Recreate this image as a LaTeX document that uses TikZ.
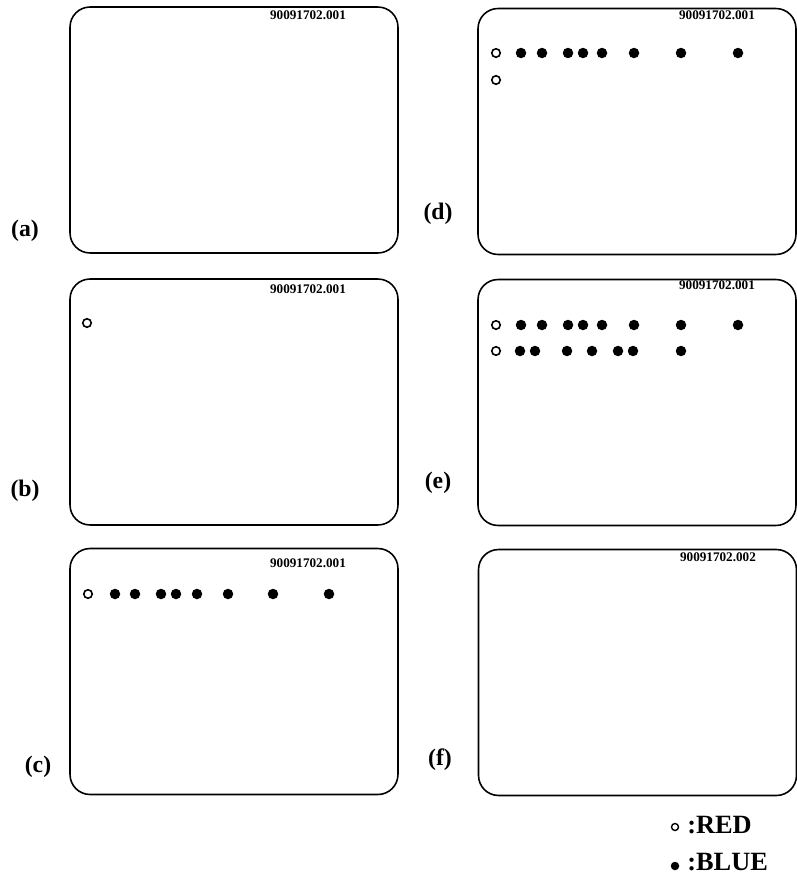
\documentclass[tikz,border=0pt]{standalone}
\usepackage{fontspec}
\setmainfont{Liberation Serif}
\usetikzlibrary{positioning}
\tikzset{
  panel/.style={draw, line width=0.9pt, rounded corners=0.4cm, minimum width=6.56cm, minimum height=4.92cm, inner sep=0pt},
  panelr/.style={panel, minimum width=6.36cm},
  idtext/.style={font=\fontsize{7.5}{9}\selectfont\bfseries, inner sep=0pt},
  tag/.style={font=\fontsize{13.5}{16}\selectfont\bfseries, inner sep=0pt},
  legtext/.style={font=\fontsize{15}{18}\selectfont\bfseries, inner sep=0pt, anchor=west}
}
\newcommand{\reddot}[2]{\draw[line width=0.9pt, fill=white] (#1,#2) circle[radius=0.085cm];}
\newcommand{\bluedot}[2]{\fill (#1,#2) circle[radius=0.105cm];}
\begin{document}
\begin{tikzpicture}[x=0.02cm, y=-0.02cm]
  \useasboundingbox (0,0) rectangle (797,882);
  \clip (0,0) rectangle (797,882);
  % Panels, left column
  \node[panel] (pa) at (234,130) {};
  \node[panel] (pb) at (234,402) {};
  \node[panel] (pc) at (234,671.5) {};
  % Panels, right column
  \node[panelr] (pd) at (637,131.5) {};
  \node[panelr] (pe) at (637,402.5) {};
  \node[panelr] (pf) at (637.5,672.5) {};
  % Frame numbers
  \node[idtext] (ida) at (308,15) {90091702.001};
  \node[idtext] (idb) at (308,289) {90091702.001};
  \node[idtext] (idc) at (308,563) {90091702.001};
  \node[idtext] (idd) at (717,15) {90091702.001};
  \node[idtext] (ide) at (717,285) {90091702.001};
  \node[idtext] (idf) at (718,557) {90091702.002};
  % Panel tags
  \node[tag] (ta) at (25,231) {(a)};
  \node[tag] (tb) at (25,491) {(b)};
  \node[tag] (tc) at (38,767) {(c)};
  \node[tag] (td) at (438,214) {(d)};
  \node[tag] (te) at (438,483) {(e)};
  \node[tag] (tf) at (440,760) {(f)};
  % (b)
  \reddot{87}{323}
  % (c)
  \reddot{88}{594}
  \foreach \x in {115,135,161,176,197,228,273,329} {\bluedot{\x}{594}}
  % (d)
  \reddot{496}{53}
  \reddot{496}{80}
  \foreach \x in {521,542,568,583,602,634,681,738} {\bluedot{\x}{53}}
  % (e)
  \reddot{496}{325}
  \reddot{496}{351}
  \foreach \x in {521,542,568,583,602,634,681,738} {\bluedot{\x}{325}}
  \foreach \x in {520,535,567,592,618,633,681} {\bluedot{\x}{351}}
  % Legend
  \draw[line width=0.8pt] (675,827) circle[radius=0.07cm];
  \fill (675,866) circle[radius=0.085cm];
  \node[legtext] (lred) at (687,825) {:RED};
  \node[legtext] (lblue) at (687,862) {:BLUE};
\end{tikzpicture}
\end{document}
